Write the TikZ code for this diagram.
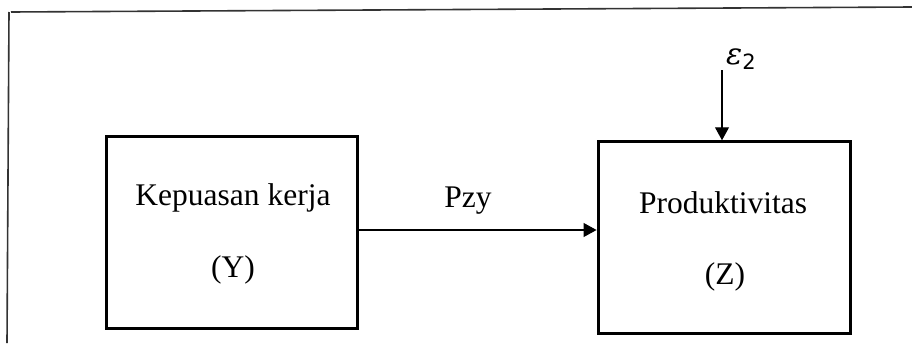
\documentclass[tikz,border=0pt]{standalone}
\usepackage{fontspec}
\setmainfont{Liberation Serif}
\newfontfamily\epsfont{DejaVu Serif}
\newfontfamily\subfont{DejaVu Sans}
\usetikzlibrary{arrows.meta}
\begin{document}
\begin{tikzpicture}[x=1pt,y=-1pt,
  varbox/.style={draw=black,line width=3pt,minimum width=#1,inner sep=0pt},
  lbl/.style={font=\fontsize{31.5}{37}\selectfont,inner sep=0pt,anchor=center},
  conn/.style={draw=black,line width=1.1pt,-{Triangle[length=13pt,width=14pt]}},
  frame/.style={draw=black!80,line width=1.6pt}]
\useasboundingbox (0,0) rectangle (912,343);
% outer frame
\draw[frame] (11,12) -- (912,7);
\draw[frame] (9,12) -- (7,343);
% boxes
\node[varbox=251pt,minimum height=192pt] (lbox) at (232.2,232.9) {};
\node[varbox=252.7pt,minimum height=191.3pt] (rbox) at (724.4,237.4) {};
% labels
\node[lbl] (ltxt) at (233,198) {Kepuasan kerja};
\node[lbl] (lvar) at (233,270) {(Y)};
\node[lbl] (rtxt) at (723,203) {Produktivitas};
\node[lbl] (rvar) at (725,277) {(Z)};
\node[lbl] (pzy) at (468,201) {Pzy};
\node[inner sep=0pt,anchor=base west] (eps) at (726,64)
  {{\fontsize{30}{30}\selectfont\epsfont\itshape ε}\raisebox{-5pt}{\fontsize{21}{21}\selectfont\subfont 2}};
% connectors
\coordinate (a1) at (358,230);
\draw[conn] (a1) -- (a1 -| rbox.west);
\coordinate (e1) at (722,70);
\draw[conn] (e1) -- (e1 |- rbox.north);
\end{tikzpicture}
\end{document}
